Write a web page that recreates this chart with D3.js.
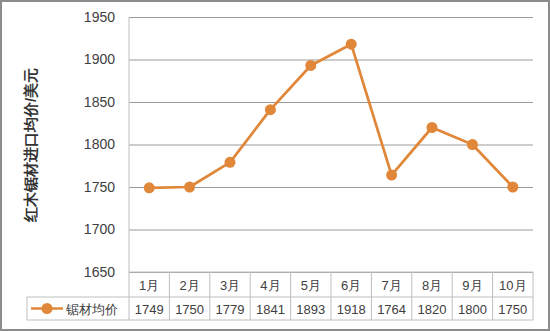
<!DOCTYPE html>
<html>
<head>
<meta charset="utf-8">
<script src="https://cdn.jsdelivr.net/npm/d3@7"></script>
<style>
  body { margin: 0; background: #fff; }
  text { font-family: "Liberation Sans", Calibri, sans-serif; }
</style>
</head>
<body>
<div class="chart"></div>
<script>
// data
const months = ["1月", "2月", "3月", "4月", "5月", "6月", "7月", "8月", "9月", "10月"];
const prices = [1749, 1750, 1779, 1841, 1893, 1918, 1764, 1820, 1800, 1750];
const yTicks = [1650, 1700, 1750, 1800, 1850, 1900, 1950];
const seriesName = "锯材均价";
const yTitle = "红木锯材进口均价/美元";

const W = 550, H = 331;
const plot = {left: 129, right: 533, top: 17, bottom: 272};
const color = "#E0873A";

const svg = d3.select(".chart").append("svg")
    .attr("width", W)
    .attr("height", H);

// outer frame
svg.append("rect")
    .attr("x", 1).attr("y", 1)
    .attr("width", W - 2).attr("height", H - 2)
    .attr("fill", "#fff")
    .attr("stroke", "#8c8c8c")
    .attr("stroke-width", 2);

// scales
const xScale = d3.scaleBand()
    .domain(months)
    .range([plot.left, plot.right]);
const yScale = d3.scaleLinear()
    .domain([1650, 1950])
    .range([plot.bottom, plot.top]);

// gridlines + y labels
const yAxis = d3.axisLeft(yScale)
    .tickValues(yTicks)
    .tickFormat(d3.format("d"))
    .tickSize(-(plot.right - plot.left))
    .tickPadding(14);

svg.append("g")
    .attr("class", "y-axis")
    .attr("transform", "translate(" + plot.left + ",0)")
    .call(yAxis)
    .call(g => g.select(".domain").remove())
    .call(g => g.selectAll(".tick line").attr("stroke", "#9a9a9a").attr("stroke-width", 1))
    .call(g => g.selectAll(".tick text")
        .attr("fill", "#404040")
        .attr("font-size", 14)
        .attr("font-family", "'Liberation Sans', sans-serif"));

// y axis title
svg.append("text")
    .attr("transform", "translate(36,145) rotate(-90)")
    .attr("text-anchor", "middle")
    .attr("font-family", "'Noto Sans CJK SC', sans-serif")
    .attr("font-size", 14.5)
    .attr("font-weight", "bold")
    .attr("fill", "#333")
    .text(yTitle);

// data table
const rowTop = plot.bottom, rowMid = 297, rowBot = 320;
const tableLeft = 27;
const grid = svg.append("g").attr("stroke", "#bfbfbf").attr("stroke-width", 1);

grid.append("line").attr("x1", plot.left).attr("x2", plot.right).attr("y1", rowTop).attr("y2", rowTop);
grid.append("line").attr("x1", tableLeft).attr("x2", plot.right).attr("y1", rowMid).attr("y2", rowMid);
grid.append("line").attr("x1", tableLeft).attr("x2", plot.right).attr("y1", rowBot).attr("y2", rowBot);
grid.append("line").attr("x1", tableLeft).attr("x2", tableLeft).attr("y1", rowMid).attr("y2", rowBot);

const edges = months.map(m => xScale(m)).concat([plot.right]);
grid.selectAll(".vline")
    .data(edges)
    .enter().append("line")
    .attr("x1", d => d).attr("x2", d => d)
    .attr("y1", rowTop).attr("y2", rowBot);

// left axis line of plot
svg.append("line")
    .attr("x1", plot.left).attr("x2", plot.left)
    .attr("y1", plot.top).attr("y2", rowTop)
    .attr("stroke", "#bfbfbf");

svg.selectAll(".month")
    .data(months)
    .enter().append("text")
    .attr("x", d => xScale(d) + xScale.bandwidth() / 2)
    .attr("y", (rowTop + rowMid) / 2 + 5)
    .attr("text-anchor", "middle")
    .attr("font-family", "'Noto Sans CJK SC', sans-serif")
    .attr("font-size", 13)
    .attr("fill", "#404040")
    .text(d => d);

svg.selectAll(".val")
    .data(prices)
    .enter().append("text")
    .attr("x", (d, i) => xScale(months[i]) + xScale.bandwidth() / 2)
    .attr("y", (rowMid + rowBot) / 2 + 5)
    .attr("text-anchor", "middle")
    .attr("font-size", 13)
    .attr("fill", "#404040")
    .text(d => d);

// legend in table
const legY = (rowMid + rowBot) / 2;
svg.append("line")
    .attr("x1", 31).attr("x2", 63)
    .attr("y1", legY).attr("y2", legY)
    .attr("stroke", color).attr("stroke-width", 2.5);
svg.append("circle")
    .attr("cx", 47).attr("cy", legY).attr("r", 5.5)
    .attr("fill", color);
svg.append("text")
    .attr("x", 66).attr("y", legY + 5)
    .attr("font-family", "'Noto Sans CJK SC', sans-serif")
    .attr("font-size", 13)
    .attr("fill", "#404040")
    .text(seriesName);

// line + markers
const line = d3.line()
    .x((d, i) => xScale(months[i]) + xScale.bandwidth() / 2)
    .y(d => yScale(d));

svg.append("path")
    .datum(prices)
    .attr("d", line)
    .attr("fill", "none")
    .attr("stroke", color)
    .attr("stroke-width", 2.75)
    .attr("stroke-linejoin", "round");

svg.selectAll(".dot")
    .data(prices)
    .enter().append("circle")
    .attr("cx", (d, i) => xScale(months[i]) + xScale.bandwidth() / 2)
    .attr("cy", d => yScale(d))
    .attr("r", 5.5)
    .attr("fill", color);
</script>
</body>
</html>
